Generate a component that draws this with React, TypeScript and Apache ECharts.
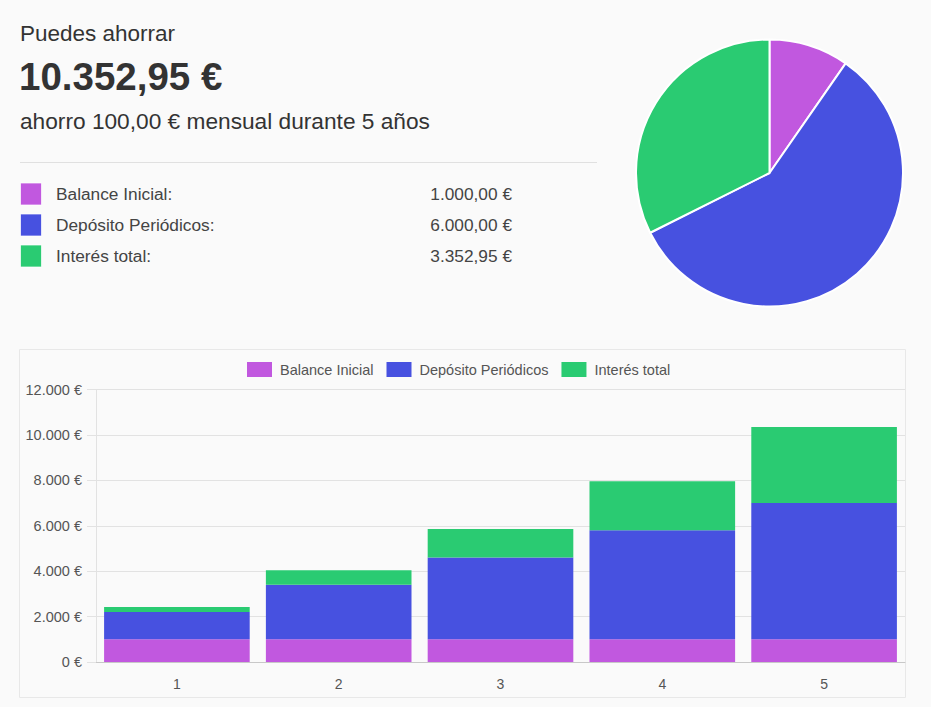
import React, { useEffect, useRef } from "react";
import * as echarts from "echarts";

// ---- data ----
const years = ["1", "2", "3", "4", "5"];
const balanceInicial = [1000, 1000, 1000, 1000, 1000];
const depositosPeriodicos = [1200, 2400, 3600, 4800, 6000];
const interesTotal = [218, 645, 1262, 2160, 3352.95];

const seriesNames = ["Balance Inicial", "Depósito Periódicos", "Interés total"];
const summaryValues = [1000, 6000, 3352.95];
const totalSavings = 10352.95;
const monthlySaving = 100;
const durationYears = 5;

const yMin = 0;
const yMax = 12000;
const yInterval = 2000;

const COLORS = ["#c158df", "#4751e0", "#2acb72"];
const FONT = "'Liberation Sans', Arial, Helvetica, sans-serif";

function fmtEur(v: number, decimals: number): string {
  const fixed = v.toFixed(decimals);
  const [intPart, frac] = fixed.split(".");
  const withDots = intPart.replace(/\B(?=(\d{3})+(?!\d))/g, ".");
  return withDots + (decimals > 0 ? "," + frac : "") + " €";
}

export default function App() {
  const ref = useRef<HTMLDivElement>(null);

  useEffect(() => {
    document.body.style.margin = "0";
    document.body.style.background = "#ffffff";
    if (!ref.current) return;
    const chart = echarts.init(ref.current, undefined, { renderer: "svg" });

    const txt = (
      text: string,
      x: number,
      y: number,
      size: number,
      opts: { weight?: string; fill?: string; align?: string } = {}
    ) => ({
      type: "text",
      x,
      y,
      silent: true,
      style: {
        text,
        fontSize: size,
        fontWeight: opts.weight || "normal",
        fontFamily: FONT,
        fill: opts.fill || "#333333",
        textAlign: opts.align || "left",
        align: opts.align || "left",
        textVerticalAlign: "middle",
        verticalAlign: "middle",
      },
    });

    const graphics: any[] = [
      // chart box
      {
        type: "rect",
        silent: true,
        z: -10,
        shape: { x: 19.5, y: 349.5, width: 886, height: 348 },
        style: { fill: "#fafafa", stroke: "#e8e8e8", lineWidth: 1 },
      },
      txt("Puedes ahorrar", 20, 33, 22.5),
      txt(fmtEur(totalSavings, 2), 19, 76.5, 38.5, { weight: "bold" }),
      txt(
        "ahorro " + fmtEur(monthlySaving, 2) + " mensual durante " + durationYears + " años",
        20,
        120.5,
        22.7
      ),
      {
        type: "line",
        silent: true,
        shape: { x1: 20, y1: 162.5, x2: 597, y2: 162.5 },
        style: { stroke: "#e0e0e0", lineWidth: 1 },
      },
    ];

    seriesNames.forEach((name, i) => {
      const cy = 194 + i * 31;
      graphics.push({
        type: "rect",
        silent: true,
        shape: { x: 20.5, y: cy - 11, width: 21, height: 22 },
        style: { fill: COLORS[i], stroke: "rgba(255,255,255,0.7)", lineWidth: 1 },
      });
      graphics.push(txt(name + ":", 56, cy, 17.3, { fill: "#444444" }));
      graphics.push(
        txt(fmtEur(summaryValues[i], 2), 512, cy, 17.3, { fill: "#444444", align: "right" })
      );
    });

    const barSeries = [balanceInicial, depositosPeriodicos, interesTotal].map((data, i) => ({
      name: seriesNames[i],
      type: "bar",
      stack: "total",
      barCategoryGap: "10%",
      data,
      itemStyle: { color: COLORS[i] },
      emphasis: { disabled: true },
    }));

    const option: any = {
      animation: false,
      backgroundColor: "#fafafa",
      textStyle: { fontFamily: FONT },
      graphic: graphics,
      legend: {
        data: seriesNames,
        left: 247,
        top: 362,
        padding: 0,
        itemWidth: 25,
        itemHeight: 15,
        itemGap: 13,
        icon: "rect",
        selectedMode: false,
        textStyle: { fontSize: 14.5, color: "#555555", fontFamily: FONT, padding: [0, 0, 0, 3] },
      },
      grid: { left: 96, right: 26, top: 389.5, bottom: 45, containLabel: false },
      xAxis: {
        type: "category",
        data: years,
        axisLine: { show: true, lineStyle: { color: "#c8c8c8", width: 1 } },
        axisTick: { show: false },
        axisLabel: { color: "#555555", fontSize: 14, margin: 15, fontFamily: FONT },
        splitLine: { show: false },
      },
      yAxis: {
        type: "value",
        min: yMin,
        max: yMax,
        interval: yInterval,
        axisLine: { show: true, lineStyle: { color: "#e2e2e2", width: 1 } },
        axisTick: { show: true, length: 9, lineStyle: { color: "#e2e2e2" } },
        axisLabel: {
          color: "#555555",
          fontSize: 14.5,
          margin: 14,
          fontFamily: FONT,
          formatter: (v: number) => fmtEur(v, 0),
        },
        splitLine: { show: true, lineStyle: { color: "#e2e2e2", width: 1 } },
      },
      series: [
        ...barSeries,
        {
          type: "pie",
          center: [769.5, 173],
          radius: 133.5,
          startAngle: 90,
          clockwise: true,
          label: { show: false },
          labelLine: { show: false },
          emphasis: { disabled: true },
          itemStyle: { borderColor: "#ffffff", borderWidth: 2 },
          data: seriesNames.map((name, i) => ({
            name,
            value: summaryValues[i],
            itemStyle: { color: COLORS[i] },
          })),
        },
      ],
    };

    chart.setOption(option);
    return () => chart.dispose();
  }, []);

  return <div ref={ref} style={{ width: 931, height: 707 }} />;
}
